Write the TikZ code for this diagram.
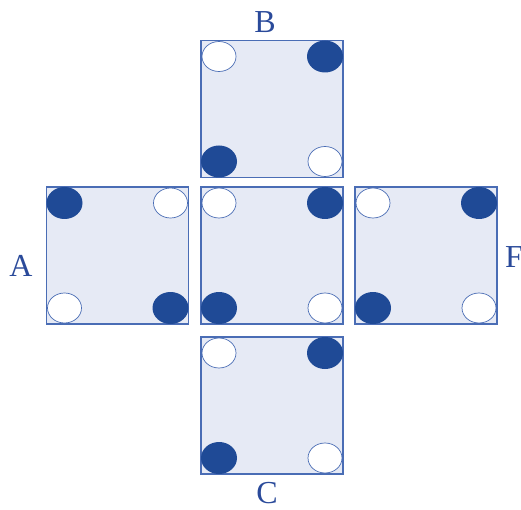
\documentclass[tikz,border=0pt]{standalone}
\usepackage{fontspec}
\setmainfont{Liberation Serif}
\usetikzlibrary{shapes.geometric}
\definecolor{edgeblue}{HTML}{4A6DB5}
\definecolor{dotblue}{HTML}{1F4A96}
\definecolor{facefill}{HTML}{E6EAF5}
\definecolor{labblue}{HTML}{2A4A9A}
\tikzset{
  facebox/.style={draw=edgeblue, fill=facefill, line width=1.5pt, minimum width=142pt, minimum height=137pt, inner sep=0pt, outer sep=0pt},
  dk/.style={ellipse, fill=dotblue, minimum width=36pt, minimum height=32pt, inner sep=0pt},
  wt/.style={ellipse, fill=white, draw=edgeblue, line width=0.7pt, minimum width=34pt, minimum height=30pt, inner sep=0pt},
  lab/.style={text=labblue, inner sep=0pt, font=\fontsize{32}{32}\selectfont}
}
\newcommand\facedots[5]{%
  \node[#2] (#1-tl) at ([shift={(18,16)}]#1.north west) {};
  \node[#3] (#1-tr) at ([shift={(-18,16)}]#1.north east) {};
  \node[#4] (#1-bl) at ([shift={(18,-16)}]#1.south west) {};
  \node[#5] (#1-br) at ([shift={(-18,-16)}]#1.south east) {};
}
\begin{document}
\begin{tikzpicture}[x=1pt,y=-1pt]
  \useasboundingbox (0,0) rectangle (521,510);
  \node[facebox] (B) at (272,109) {};
  \node[facebox] (A) at (117.5,255.5) {};
  \node[facebox] (M) at (272,255.5) {};
  \node[facebox] (F) at (426,255.5) {};
  \node[facebox] (C) at (272,405.5) {};
  \facedots{B}{wt}{dk}{dk}{wt}
  \facedots{A}{dk}{wt}{wt}{dk}
  \facedots{M}{wt}{dk}{dk}{wt}
  \facedots{F}{wt}{dk}{dk}{wt}
  \facedots{C}{wt}{dk}{dk}{wt}
  \node[lab] (lB) at (265,22) {B};
  \node[lab] (lA) at (21,266) {A};
  \node[lab] (lF) at (514,257) {F};
  \node[lab] (lC) at (267,493) {C};
\end{tikzpicture}
\end{document}
